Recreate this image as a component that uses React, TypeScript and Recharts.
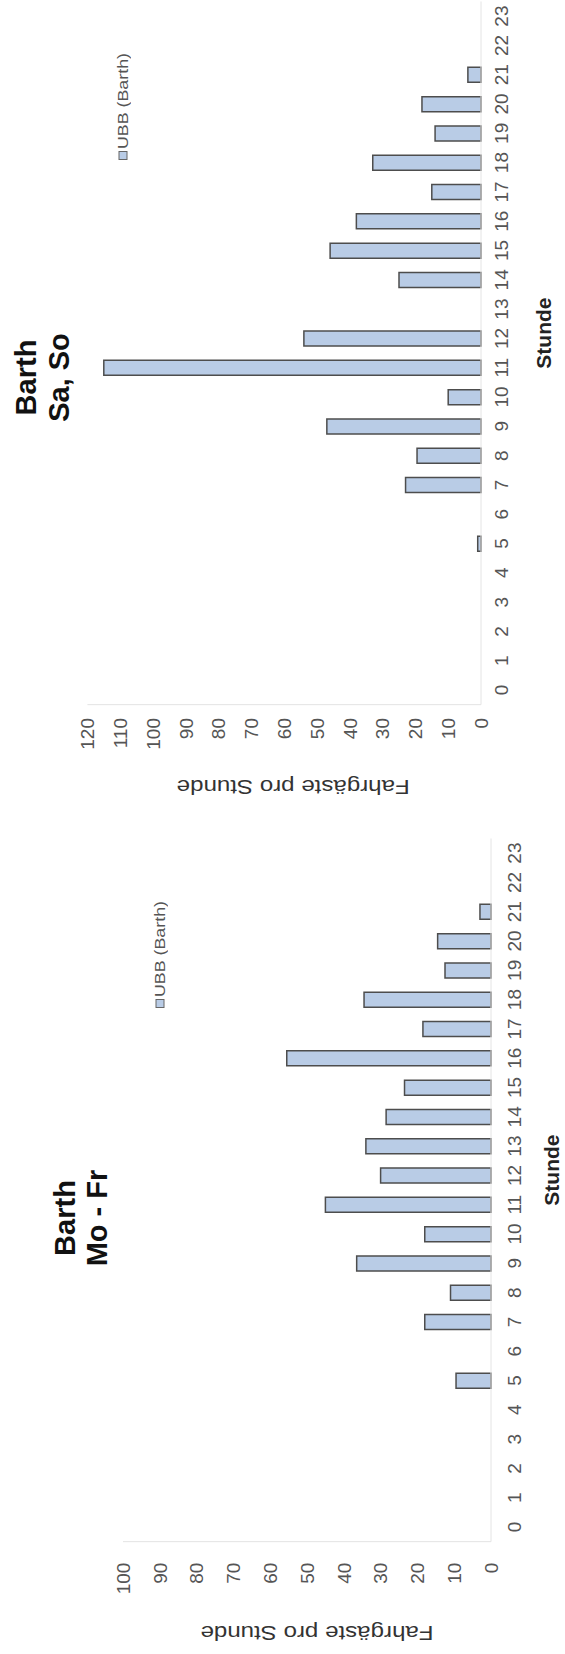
import React from 'react';
import { BarChart, Bar, XAxis, YAxis, Legend, Label } from 'recharts';

const hours = ['0','1','2','3','4','5','6','7','8','9','10','11','12','13','14','15','16','17','18','19','20','21','22','23'];
const weekendValues = [0, 0, 0, 0, 0, 1, 0, 23, 19.5, 47, 10, 115, 54, 0, 25, 46, 38, 15, 33, 14, 18, 4, 0, 0];
const weekdayValues = [0, 0, 0, 0, 0, 9.5, 0, 18, 11, 36.5, 18, 45, 30, 34, 28.5, 23.5, 55.5, 18.5, 34.5, 12.5, 14.5, 3, 0, 0];
const weekendTicks = [0, 10, 20, 30, 40, 50, 60, 70, 80, 90, 100, 110, 120];
const weekdayTicks = [0, 10, 20, 30, 40, 50, 60, 70, 80, 90, 100];
const seriesName = 'UBB (Barth)';
const xTitle = 'Stunde';
const yTitle = 'Fahrgäste pro Stunde';

const FONT = '"Liberation Sans", Arial, Helvetica, sans-serif';
const FILL = '#b9cce6';
const STROKE = '#4d4d4d';

type Cfg = {
  title: [string, string];
  values: number[];
  ticks: number[];
  max: number;
  width: number;
  plotLeft: number;
  right: number;
  top: number;
  baseline: number;
  yTickMargin: number;
  xTickMargin: number;
  titleX: number;
  titleY: [number, number];
  legendLeft: number;
  legendCenter: number;
  stundeDx: number;
  stundeDy: number;
  yTitleX: number;
  yTitleDy: number;
};

const HEIGHT = 565;

function Chart({ cfg }: { cfg: Cfg }) {
  const data = hours.map((h, i) => ({ hour: h, ubb: cfg.values[i] }));
  const xAxisHeight = 50;
  const bottomMargin = HEIGHT - cfg.baseline - xAxisHeight;
  const tickStyle = { fontSize: 19, fill: '#555', fontFamily: FONT };

  const stundeLabel = (props: any) => {
    const vb = props.viewBox || {};
    return (
      <text
        x={vb.x + vb.width / 2 + cfg.stundeDx}
        y={vb.y + cfg.stundeDy}
        textAnchor="middle"
        fontFamily={FONT}
        fontWeight="bold"
        fontSize={21}
        fill="#222"
      >
        {xTitle}
      </text>
    );
  };

  const yTitleLabel = (props: any) => {
    const vb = props.viewBox || {};
    const cy = vb.y + vb.height / 2 + cfg.yTitleDy;
    const cx = cfg.yTitleX;
    return (
      <text
        x={cx}
        y={cy}
        transform={`rotate(-90 ${cx} ${cy})`}
        textAnchor="middle"
        fontFamily={FONT}
        fontSize={20}
        textLength={233}
        lengthAdjust="spacingAndGlyphs"
        fill="#333"
      >
        {yTitle}
      </text>
    );
  };

  const legendContent = () => (
    <svg width={112} height={16} style={{ display: 'block' }}>
      <rect x={0.5} y={4} width={8} height={8} fill={FILL} stroke="#666" strokeWidth={1} />
      <text
        x={11}
        y={13}
        fontFamily={FONT}
        fontSize={14}
        fill="#555"
        textLength={96}
        lengthAdjust="spacingAndGlyphs"
      >
        {seriesName}
      </text>
    </svg>
  );

  return (
    <div style={{ position: 'relative', width: cfg.width, height: HEIGHT }}>
      <BarChart
        width={cfg.width}
        height={HEIGHT}
        data={data}
        margin={{ top: cfg.top, right: cfg.right, bottom: bottomMargin, left: 0 }}
        barSize={15}
      >
        <XAxis
          dataKey="hour"
          interval={0}
          height={xAxisHeight}
          tickLine={false}
          tickSize={0}
          tickMargin={cfg.xTickMargin}
          axisLine={{ stroke: '#e4e4e4' }}
          tick={tickStyle}
        >
          <Label content={stundeLabel} />
        </XAxis>
        <YAxis
          width={cfg.plotLeft}
          domain={[0, cfg.max]}
          ticks={cfg.ticks}
          interval={0}
          tickLine={false}
          tickSize={0}
          tickMargin={cfg.yTickMargin}
          axisLine={{ stroke: '#e4e4e4' }}
          tick={tickStyle}
        >
          <Label content={yTitleLabel} />
        </YAxis>
        <Legend
          layout="horizontal"
          verticalAlign="middle"
          align="center"
          content={legendContent}
          wrapperStyle={{ left: cfg.legendLeft, top: cfg.legendCenter - 8, width: 120, height: 16 }}
        />
        <Bar
          dataKey="ubb"
          name={seriesName}
          fill={FILL}
          stroke={STROKE}
          strokeWidth={1.5}
          isAnimationActive={false}
        />
      </BarChart>
      <svg
        width={cfg.width}
        height={HEIGHT}
        style={{ position: 'absolute', left: 0, top: 0, pointerEvents: 'none' }}
      >
        <text x={cfg.titleX} y={cfg.titleY[0]} textAnchor="middle" fontFamily={FONT} fontWeight="bold" fontSize={29} fill="#111">
          {cfg.title[0]}
        </text>
        <text x={cfg.titleX} y={cfg.titleY[1]} textAnchor="middle" fontFamily={FONT} fontWeight="bold" fontSize={29} fill="#111">
          {cfg.title[1]}
        </text>
      </svg>
    </div>
  );
}

const weekdayCfg: Cfg = {
  title: ['Barth', 'Mo - Fr'],
  values: weekdayValues,
  ticks: weekdayTicks,
  max: 100,
  width: 830,
  plotLeft: 112.35,
  right: 14.45,
  top: 123,
  baseline: 491,
  yTickMargin: 21,
  xTickMargin: 17,
  titleX: 436,
  titleY: [75, 107],
  legendLeft: 646,
  legendCenter: 160,
  stundeDx: 20,
  stundeDy: 67.5,
  yTitleX: 28,
  yTitleDy: 10,
};

const weekendCfg: Cfg = {
  title: ['Barth', 'Sa, So'],
  values: weekendValues,
  ticks: weekendTicks,
  max: 120,
  width: 824,
  plotLeft: 119.35,
  right: 1.45,
  top: 87.4,
  baseline: 481,
  yTickMargin: 13.35,
  xTickMargin: 14,
  titleX: 446.5,
  titleY: [35.5, 68.5],
  legendLeft: 664,
  legendCenter: 123,
  stundeDx: 20,
  stundeDy: 69.5,
  yTitleX: 44.5,
  yTitleDy: 9,
};

export default function App() {
  return (
    <div
      style={{
        position: 'absolute',
        left: 0,
        top: 0,
        width: 1654,
        height: HEIGHT,
        background: '#fff',
        transformOrigin: '0 0',
        transform: 'translate(0px, 1654px) rotate(-90deg)',
        display: 'flex',
        flexDirection: 'row',
      }}
    >
      <Chart cfg={weekdayCfg} />
      <Chart cfg={weekendCfg} />
    </div>
  );
}
